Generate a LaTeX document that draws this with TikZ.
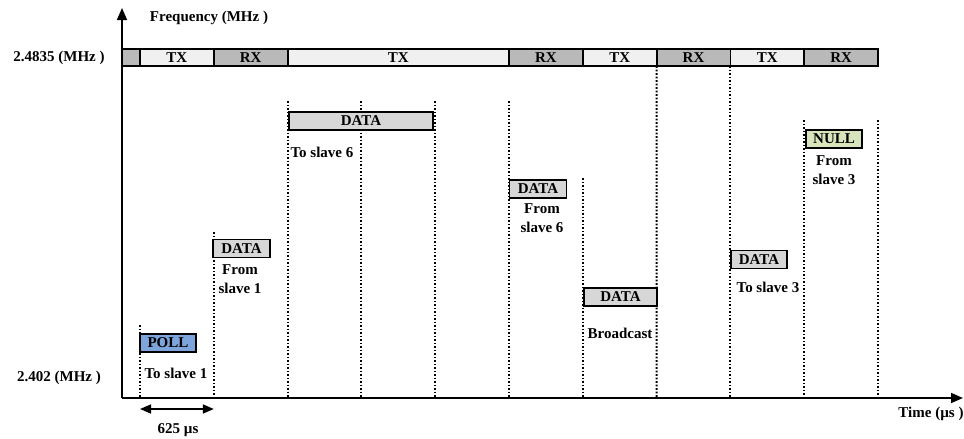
\documentclass[tikz,border=0pt]{standalone}
\usepackage{fontspec}
\setmainfont{Liberation Serif}
\usepackage{xcolor}
\usetikzlibrary{arrows.meta,positioning}

\definecolor{txfill}{RGB}{240,240,240}
\definecolor{rxfill}{RGB}{185,185,185}
\definecolor{datafill}{RGB}{215,215,215}
\definecolor{pollfill}{RGB}{125,165,220}
\definecolor{nullfill}{RGB}{215,228,188}

\begin{document}
\begin{tikzpicture}[
    x=1pt, y=-1pt,
    every node/.style={font=\fontsize{15}{18.5}\selectfont\bfseries},
    slot/.style={
        draw,
        line width=1.8pt,
        inner sep=0pt,
        outer sep=0pt,
        minimum height=17pt
    },
    txslot/.style={slot, fill=txfill},
    rxslot/.style={slot, fill=rxfill},
    packet/.style={
        draw,
        line width=1.7pt,
        inner sep=0pt,
        minimum height=18pt,
        fill=datafill
    },
    note/.style={align=center, inner sep=0pt},
    axis/.style={-{Triangle[length=12pt,width=10pt]}, line width=1.6pt},
    guide/.style={line width=1.9pt, dash pattern=on 1.9pt off 1.6pt},
    span/.style={{Triangle[length=11pt,width=9pt]}-{Triangle[length=11pt,width=9pt]}, line width=1.6pt}
]
\useasboundingbox (0,0) rectangle (964,439);

% axes
\coordinate (origin) at (122,398);
\coordinate (ftop) at (122,8);
\coordinate (tend) at (963,398);
\draw[axis] (origin) -- (ftop);
\draw[axis] (origin) -- (tend);
\node (freqlabel) at (209,18) {Frequency (MHz )};
\node (timelabel) at (931,414) {Time (\textmu s )};
\node (highlabel) at (59,58) {2.4835 (MHz )};
\node (lowlabel) at (59,378) {2.402 (MHz )};

% channel band
\node[rxslot, minimum width=18pt] (b0) at (131,57.5) {};
\node[txslot, minimum width=73.8pt] (b1) at (176.9,57.5) {TX};
\node[rxslot, minimum width=73.8pt] (b2) at (250.7,57.5) {RX};
\node[txslot, minimum width=221.4pt] (b3) at (398.3,57.5) {TX};
\node[rxslot, minimum width=73.8pt] (b4) at (545.9,57.5) {RX};
\node[txslot, minimum width=73.8pt] (b5) at (619.7,57.5) {TX};
\node[rxslot, minimum width=73.8pt] (b6) at (693.5,57.5) {RX};
\node[txslot, minimum width=73.8pt] (b7) at (767.3,57.5) {TX};
\node[rxslot, minimum width=73.8pt] (b8) at (841.1,57.5) {RX};

% slot boundaries
\draw[guide] (140,325) -- (140,398);
\draw[guide] (213.8,232) -- (213.8,398);
\draw[guide] (287.6,101) -- (287.6,398);
\draw[guide] (361.4,101) -- (361.4,398);
\draw[guide] (435.2,101) -- (435.2,398);
\draw[guide] (509,101) -- (509,398);
\draw[guide] (582.8,178) -- (582.8,398);
\draw[guide] (b5.south east) -- (656.6,398);
\draw[guide] (b6.south east) -- (730.4,398);
\draw[guide] (804.2,120) -- (804.2,398);
\draw[guide] (878,120) -- (878,398);

% packets
\node[packet, fill=pollfill, minimum width=56pt] (poll) at (168,343) {POLL};
\node[note] (poll_note) at (176,373) {To slave 1};

\node[packet, minimum width=57pt] (data1) at (241.5,248.5) {DATA};
\node[note] (data1_note) at (240,279) {From\\slave 1};

\node[packet, minimum width=144pt] (data2) at (361,121) {DATA};
\node[note] (data2_note) at (322,152) {To slave 6};

\node[packet, minimum width=57pt] (data3) at (538,189) {DATA};
\node[note] (data3_note) at (542,218) {From\\slave 6};

\node[packet, minimum width=73pt] (data4) at (620.5,297) {DATA};
\node[note] (data4_note) at (620,333) {Broadcast};

\node[packet, minimum width=56pt] (data5) at (759,259.5) {DATA};
\node[note] (data5_note) at (768,287) {To slave 3};

\node[packet, fill=nullfill, minimum width=56pt] (null) at (834,139) {NULL};
\node[note] (null_note) at (834,170) {From\\slave 3};

% slot length
\coordinate (spanleft) at (140,409);
\coordinate (spanright) at (213.8,409);
\draw[span] (spanleft) -- (spanright);
\node (spanlabel) at (178,430) {625 \textmu s};
\end{tikzpicture}
\end{document}
